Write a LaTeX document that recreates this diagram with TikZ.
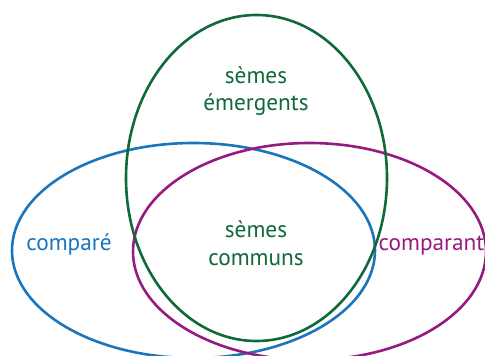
\documentclass[tikz,border=0pt]{standalone}
\usepackage{fontspec}
\setmainfont{PT Sans}
\usepackage{tikz}
\definecolor{Blue}{HTML}{1B75BC}
\definecolor{Green}{HTML}{10693A}
\definecolor{Purple}{HTML}{951B81}

\begin{document}
\begin{tikzpicture}[x=1pt,y=-1pt,
    ring/.style={line width=2.6pt},
    lbl/.style={font=\fontsize{23.3}{27.5}\selectfont,align=center,inner sep=0pt}
  ]
    \useasboundingbox (0,0) rectangle (485,356);
    \draw[ring,Blue] (193.5,250.5) ellipse [x radius=181.5,y radius=107.5];
    \draw[ring,Purple] (309.5,251.5) ellipse [x radius=176.5,y radius=108.5];
    \draw[ring,Green] (256.5,178) ellipse [x radius=130.5,y radius=163];
    \node[lbl,text=Green] (emerg) at (256,91) {sèmes\\émergents};
    \node[lbl,text=Green] (commun) at (256,243) {sèmes\\communs};
    \node[lbl,text=Blue,anchor=base] (compare) at (69,250.5) {comparé};
    \node[lbl,text=Purple,anchor=base] (comparant) at (431.5,250) {comparant};
  \end{tikzpicture}
\end{document}
